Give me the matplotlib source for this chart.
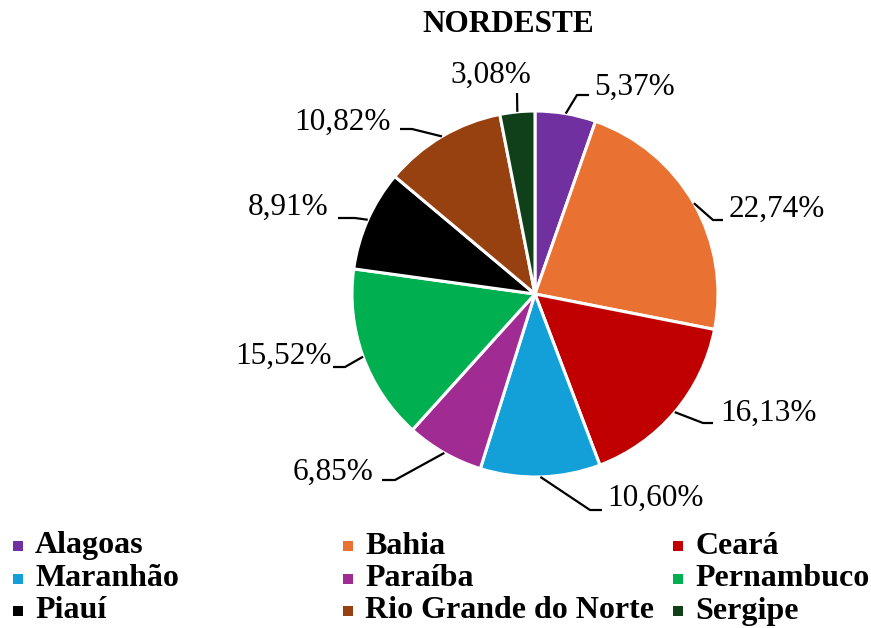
import numpy as np
import matplotlib
matplotlib.use('Agg')
from matplotlib import pyplot as plt

W, H = 871, 628

estados = ['Alagoas', 'Bahia', 'Ceará', 'Maranhão', 'Paraíba', 'Pernambuco',
           'Piauí', 'Rio Grande do Norte', 'Sergipe']
percent = [5.37, 22.74, 16.13, 10.60, 6.85, 15.52, 8.91, 10.82, 3.08]
cores = ['#7030A0', '#E97132', '#C00000', '#13A0D8', '#A02B93', '#00B050',
         '#000000', '#974010', '#10401A']

# label layout in pixels from top-left: text x, text y, ha, elbow x, elbow y, line end x
lbl_pos = [(594, 87, 'left', 577, 95, 589),
           (729, 209, 'left', 713, 220, 723),
           (720, 413, 'left', 703, 423, 713),
           (607, 498, 'left', 590, 510, 602),
           (373, 472, 'right', 395, 480, 382),
           (332, 356, 'right', 345, 367, 333),
           (328, 207, 'right', 355, 218, 338),
           (391, 122, 'right', 412, 129, 400),
           (491, 75, 'center', 517, 93, 517)]

plt.rcParams['font.family'] = ['Liberation Serif', 'DejaVu Serif']

fig = plt.figure(figsize=(W / 100., H / 100.), dpi=100)
ax = fig.add_axes([0, 0, 1, 1])

cx, cy, r = 535, H - 294, 183
wedges, _ = ax.pie(percent, colors=cores, startangle=90, counterclock=False,
                   center=(cx, cy), radius=r, frame=True,
                   wedgeprops=dict(edgecolor='white', linewidth=2.2))
ax.set_xlim(0, W)
ax.set_ylim(0, H)
ax.axis('off')

for w, v, p in zip(wedges, percent, lbl_pos):
    tx, ty, ha, ex, ey, lx = p
    ang = np.deg2rad((w.theta1 + w.theta2) / 2.)
    px = cx + r * np.cos(ang)
    py = cy + r * np.sin(ang)
    ax.plot([px, ex, lx], [py, H - ey, H - ey], color='black', lw=1.6,
            solid_capstyle='butt')
    txt = ('%.2f' % v).replace('.', ',') + '%'
    ax.text(tx, H - ty, txt, ha=ha, va='center', fontsize=22.5)

ax.text(508, H - 24, 'NORDESTE', ha='center', va='center', fontsize=22.5,
        fontweight='bold')

# legend, 3 columns
for i, (nome, c) in enumerate(zip(estados, cores)):
    col = i % 3
    row = i // 3
    x0 = 18 + col * 330
    y0 = H - (546 + row * 32.5)
    ax.scatter([x0], [y0], marker='s', s=55, color=c, linewidths=0)
    ax.text(x0 + 17, y0, nome, ha='left', va='center', fontsize=23,
            fontweight='bold')

plt.savefig('out.png', dpi=100)
